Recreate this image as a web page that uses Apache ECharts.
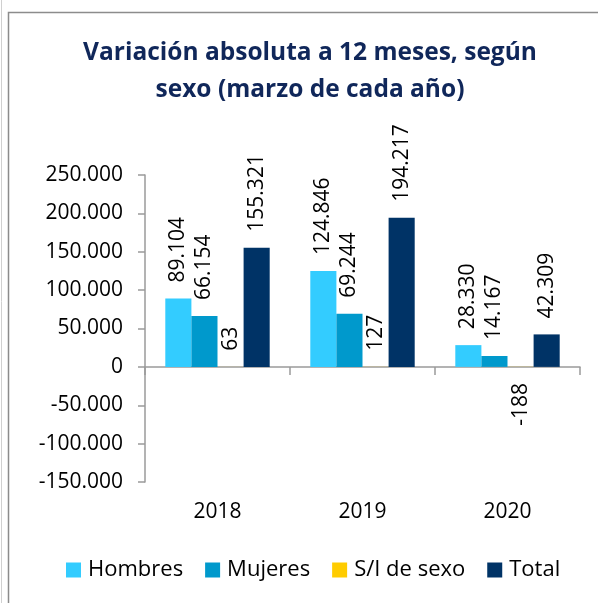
<!DOCTYPE html>
<html>
<head>
<meta charset="utf-8">
<script src="https://cdn.jsdelivr.net/npm/echarts@6/dist/echarts.min.js"></script>
<style>
  html, body { margin: 0; padding: 0; background: #fff; }
  #chart { width: 598px; height: 603px; }
</style>
</head>
<body>
<div id="chart"></div>
<script>
const years = ['2018', '2019', '2020']
const hombres = [89104, 124846, 28330]
const mujeres = [66154, 69244, 14167]
const sinSexo = [63, 127, -188]
const total = [155321, 194217, 42309]

const FONT = 'Open Sans'
const fmt = (v) => {
  const s = Math.abs(v).toString().replace(/\B(?=(\d{3})+(?!\d))/g, '.')
  return (v < 0 ? '-' : '') + s
}

const barLabel = {
  show: true,
  position: 'top',
  distance: 16,
  rotate: 90,
  align: 'left',
  verticalAlign: 'middle',
  fontFamily: FONT,
  fontSize: 21,
  color: '#000',
  formatter: (p) => fmt(p.value),
}

// negative values get their label below the zero line, like Excel's "outside end"
const withLabels = (arr) =>
  arr.map((v) =>
    v < 0 ? { value: v, label: { position: 'bottom', align: 'right' } } : v,
  )

const chart = echarts.init(document.getElementById('chart'))

chart.setOption({
  animation: false,
  textStyle: { fontFamily: FONT },
  title: {
    text: 'Variación absoluta a 12 meses, según\nsexo (marzo de cada año)',
    left: 310,
    top: 34,
    textAlign: 'center',
    padding: 0,
    textStyle: {
      fontFamily: FONT,
      fontSize: 24.5,
      fontWeight: 'bold',
      color: '#10275a',
      lineHeight: 37.5,
    },
  },
  graphic: [
    {
      type: 'rect',
      shape: { x: 8.5, y: 12.5, width: 620, height: 620 },
      style: { fill: 'none', stroke: '#8c8c8c', lineWidth: 1.5 },
      silent: true,
    },
    {
      type: 'line',
      shape: { x1: 1.5, y1: 0, x2: 1.5, y2: 603 },
      style: { stroke: '#d0d0d0', lineWidth: 1 },
      silent: true,
    },
  ],
  legend: {
    left: 61,
    top: 554,
    itemWidth: 15,
    itemHeight: 15,
    itemGap: 22,
    icon: 'rect',
    textStyle: { fontFamily: FONT, fontSize: 22, color: '#000', padding: [0, 0, 0, 2] },
  },
  grid: { left: 145, right: 18, top: 175, bottom: 121 },
  xAxis: [
    {
      type: 'category',
      data: years,
      axisLine: { onZero: true, lineStyle: { color: '#9a9a9a', width: 1.5 } },
      axisTick: { show: true, length: 8, lineStyle: { color: '#9a9a9a', width: 1.5 } },
      axisLabel: { show: false },
    },
    {
      type: 'category',
      data: years,
      position: 'bottom',
      axisLine: { show: false },
      axisTick: { show: false },
      axisLabel: { margin: 20, fontFamily: FONT, fontSize: 21, color: '#000' },
    },
  ],
  yAxis: {
    type: 'value',
    min: -150000,
    max: 250000,
    interval: 50000,
    axisLine: { show: true, lineStyle: { color: '#9a9a9a', width: 1.5 } },
    axisTick: { show: true, length: 7, lineStyle: { color: '#9a9a9a', width: 1.5 } },
    splitLine: { show: false },
    axisLabel: {
      margin: 22,
      fontFamily: FONT,
      fontSize: 21,
      color: '#000',
      formatter: fmt,
    },
  },
  series: [
    { name: 'Hombres', type: 'bar', data: withLabels(hombres), itemStyle: { color: '#33ccff' }, label: barLabel, barGap: 0, barCategoryGap: '28%' },
    { name: 'Mujeres', type: 'bar', data: withLabels(mujeres), itemStyle: { color: '#0099cc' }, label: barLabel },
    { name: 'S/I de sexo', type: 'bar', data: withLabels(sinSexo), itemStyle: { color: '#ffcc00' }, label: barLabel },
    { name: 'Total', type: 'bar', data: withLabels(total), itemStyle: { color: '#003366' }, label: barLabel },
  ],
})
</script>
</body>
</html>
